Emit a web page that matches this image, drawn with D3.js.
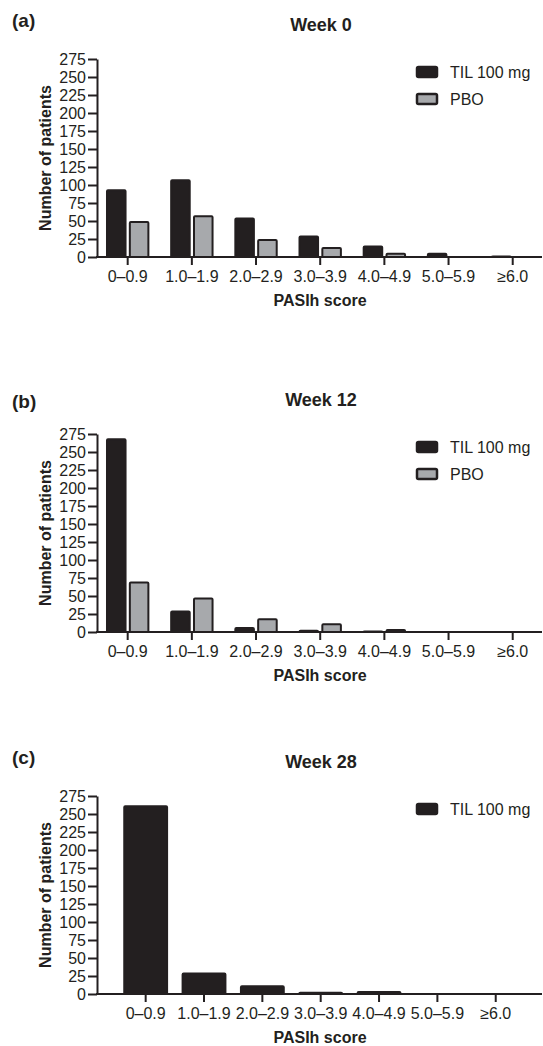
<!DOCTYPE html>
<html>
<head>
	<meta charset="utf-8">
	<script src="https://d3js.org/d3.v7.min.js"></script>
	<title>PASIh score distribution</title>
	<style>
		body { margin: 0; background: #fff; }
		text { font-family: "Liberation Sans", Arial, sans-serif; fill: #231f20; }
	</style>
</head>
<body>
	<div id="chart"></div>

	<script type="text/javascript">

		// categories and counts
		var categories = ["0\u20130.9", "1.0\u20131.9", "2.0\u20132.9", "3.0\u20133.9", "4.0\u20134.9", "5.0\u20135.9", "\u22656.0"];
		var yTicks = [0, 25, 50, 75, 100, 125, 150, 175, 200, 225, 250, 275];
		var seriesNames = ["TIL 100 mg", "PBO"];

		var week0Til = [94, 108, 55, 30, 16, 6, 2];
		var week0Pbo = [50, 58, 25, 14, 6, 0, 0];
		var week12Til = [269, 30, 7, 3, 2, 0, 0];
		var week12Pbo = [70, 48, 19, 12, 4, 0, 1];
		var week28Til = [262, 30, 12, 3, 4, 0, 0];

		var panels = [
			{label: "(a)", title: "Week 0", series: [week0Til, week0Pbo], top: 59, labelY: 27, xRange: [95.6, 544.8], pad: 0.324},
			{label: "(b)", title: "Week 12", series: [week12Til, week12Pbo], top: 434, labelY: 408, xRange: [95.6, 544.8], pad: 0.324},
			{label: "(c)", title: "Week 28", series: [week28Til], top: 796, labelY: 764, xRange: [116.5, 524.9], pad: 0.146}
		];

		var svgwidth = 543;
		var svgheight = 1046;
		var plotHeight = 198;
		var axisX = 97;
		var dark = "#231f20";
		var fills = [dark, "#a7a9ac"];

		var svg = d3.select("#chart").append("svg")
			.attr("width", svgwidth)
			.attr("height", svgheight);

		panels.forEach(function(p){
			var g = svg.append("g");

			var yScale = d3.scaleLinear()
				.domain([0, 275])
				.range([p.top + plotHeight, p.top]);

			var x0 = d3.scaleBand()
				.domain(categories)
				.range(p.xRange)
				.paddingInner(p.pad)
				.paddingOuter(p.pad / 2);

			var x1 = d3.scaleBand()
				.domain(d3.range(p.series.length))
				.range([0, x0.bandwidth()])
				.paddingInner(0.1);

			// bars
			p.series.forEach(function(values, si){
				g.selectAll(".bar" + si)
					.data(values).enter().append("rect")
					.attr("x", function(d, i){ return x0(categories[i]) + x1(si) + 1; })
					.attr("y", function(d){ return yScale(d) + 1; })
					.attr("width", x1.bandwidth() - 2)
					.attr("height", function(d){ return Math.max(0, yScale(0) - yScale(d) - 1); })
					.attr("rx", 1)
					.attr("fill", fills[si])
					.attr("stroke", dark)
					.attr("stroke-width", function(d){ return d > 0 ? 2 : 0; });
			});

			// y axis
			var yAxis = d3.axisLeft(yScale)
				.tickValues(yTicks)
				.tickSize(9)
				.tickPadding(2)
				.tickSizeOuter(0);

			var yg = g.append("g")
				.attr("transform", "translate(" + axisX + ",0)")
				.call(yAxis);
			yg.selectAll("path, line").attr("stroke", dark).attr("stroke-width", 2);
			yg.selectAll("text").style("font-size", "16px").attr("fill", dark);

			// x axis
			var xAxis = d3.axisBottom(x0)
				.tickSize(8)
				.tickPadding(6)
				.tickSizeOuter(0);

			var xg = g.append("g")
				.attr("transform", "translate(0," + yScale(0) + ")")
				.call(xAxis);
			xg.select(".domain").remove();
			xg.selectAll("line").attr("stroke", dark).attr("stroke-width", 2);
			xg.selectAll("text").style("font-size", "16px").attr("fill", dark);

			g.append("line")
				.attr("x1", axisX - 1)
				.attr("x2", 542)
				.attr("y1", yScale(0))
				.attr("y2", yScale(0))
				.attr("stroke", dark)
				.attr("stroke-width", 2);

			// labels
			g.append("text")
				.attr("x", 12)
				.attr("y", p.labelY)
				.style("font-size", "19px")
				.style("font-weight", "bold")
				.text(p.label);

			g.append("text")
				.attr("x", 321)
				.attr("y", p.top - 28)
				.attr("text-anchor", "middle")
				.style("font-size", "18px")
				.style("font-weight", "bold")
				.text(p.title);

			g.append("text")
				.attr("transform", "translate(51," + (p.top + plotHeight / 2) + ") rotate(-90)")
				.attr("text-anchor", "middle")
				.style("font-size", "16px")
				.style("font-weight", "bold")
				.text("Number of patients");

			g.append("text")
				.attr("x", 320)
				.attr("y", yScale(0) + 49)
				.attr("text-anchor", "middle")
				.style("font-size", "16px")
				.style("font-weight", "bold")
				.text("PASIh score");

			// legend
			var legend = g.selectAll(".legend")
				.data(p.series.map(function(d, i){ return seriesNames[i]; }))
				.enter().append("g")
				.attr("transform", function(d, i){ return "translate(416," + (p.top + 13 + i * 27) + ")"; });

			legend.append("rect")
				.attr("x", 1)
				.attr("y", -5)
				.attr("width", 20)
				.attr("height", 10)
				.attr("rx", 1.5)
				.attr("fill", function(d, i){ return fills[i]; })
				.attr("stroke", dark)
				.attr("stroke-width", 2.5);

			legend.append("text")
				.attr("x", 34)
				.attr("y", 0)
				.attr("dy", "0.35em")
				.style("font-size", "16px")
				.text(function(d){ return d; });
		});

	</script>
</body>
</html>
